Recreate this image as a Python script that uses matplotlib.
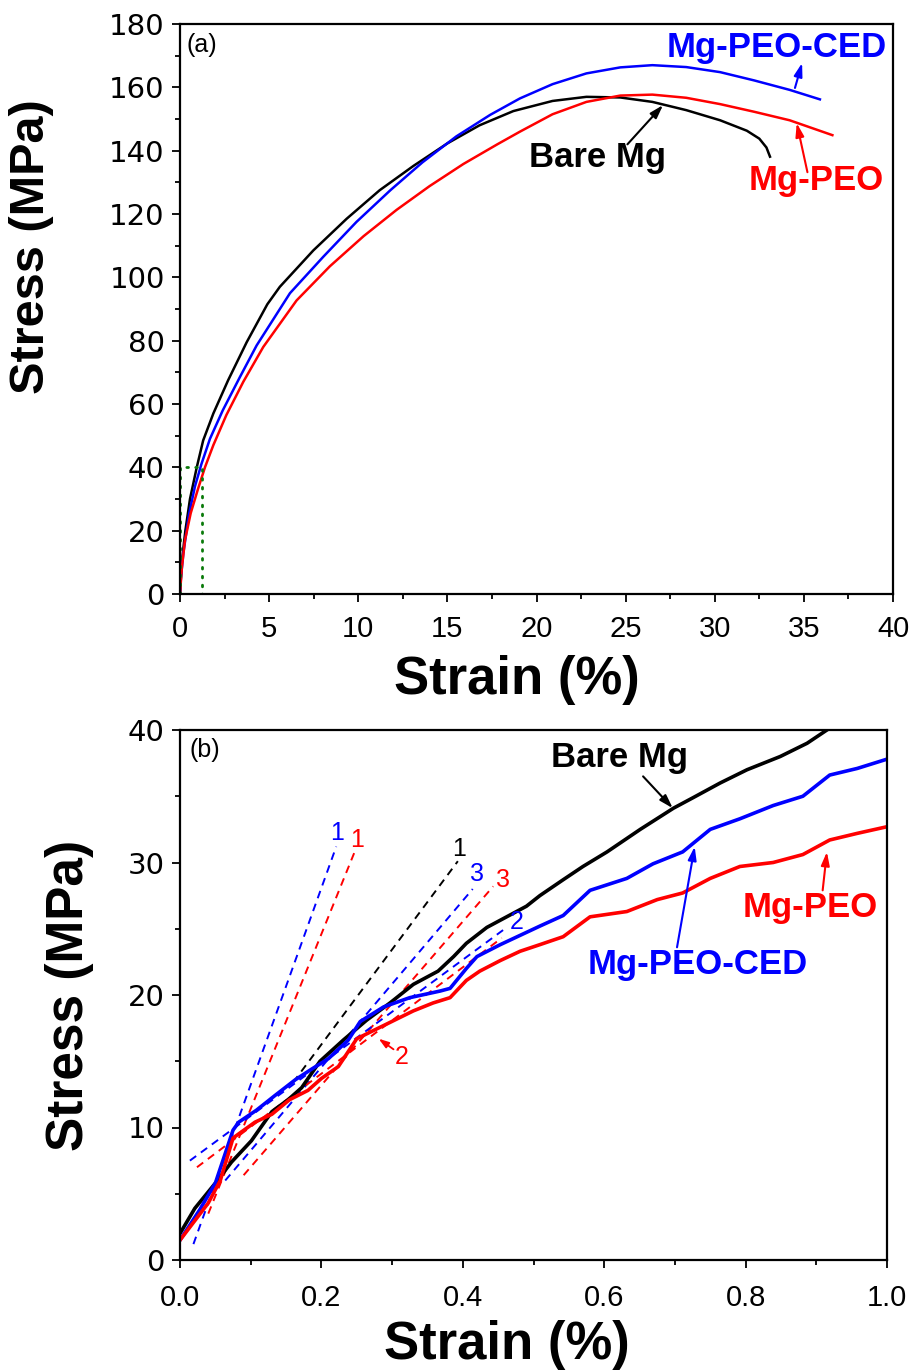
import matplotlib
matplotlib.use("Agg")
import matplotlib.pyplot as plt
from matplotlib.ticker import MultipleLocator, FormatStrFormatter

# ---------------- (a) full stress-strain curves ----------------
bare_strain = [0, 0.1, 0.3, 0.56, 0.94, 1.3, 1.87, 2.7, 3.74, 4.9, 5.6, 7.48, 9.35,
               11.2, 13.1, 15.0, 16.8, 18.7, 20.9, 22.8, 24.7, 26.5, 28.4, 30.3,
               31.8, 32.5, 32.9, 33.1]
bare_stress = [0, 10, 20, 30, 40, 48.5, 57, 67.5, 79.5, 91.5, 97.0, 108.5, 118.5,
               127.5, 135.2, 142.3, 148.0, 152.5, 155.7, 157.0, 156.8, 155.4, 152.8,
               149.6, 146.3, 143.8, 141.0, 138.1]

ced_strain = [0, 0.05, 0.19, 0.5, 0.84, 1.2, 1.68, 2.4, 3.36, 4.3, 6.17, 8.04, 9.9,
              11.8, 13.6, 15.5, 17.4, 19.07, 20.9, 22.8, 24.7, 26.5, 28.4, 30.3,
              32.2, 34.2, 35.9]
ced_stress = [0, 5, 13, 25, 34, 41, 49, 58, 68.5, 78.5, 95.0, 106.5, 117.5, 127.5,
              136.3, 144.5, 151.3, 156.5, 161.0, 164.4, 166.3, 167.0, 166.4, 164.8,
              162.2, 159.2, 156.2]

peo_strain = [0, 0.1, 0.28, 0.6, 1.0, 1.4, 1.87, 2.6, 3.55, 4.67, 6.54, 8.41, 10.3,
              12.15, 14.0, 15.9, 17.8, 19.07, 20.9, 22.8, 24.7, 26.5, 28.4, 30.3,
              32.2, 34.2, 36.6]
peo_stress = [0, 8, 17, 25.5, 33, 40, 47, 56.5, 67, 78, 92.7, 103.5, 113.0, 121.3,
              128.8, 135.8, 142.0, 146.0, 151.5, 155.4, 157.4, 157.7, 156.7, 154.7,
              152.3, 149.6, 144.9]

# region enlarged in panel (b)
zoom_box_strain = [0, 1.25]
zoom_box_stress = [0, 40]

# ---------------- (b) initial part of the curves ----------------
bare_strain_b = [0, 0.021, 0.05, 0.073, 0.101, 0.13, 0.153, 0.172, 0.198, 0.231,
                 0.264, 0.297, 0.33, 0.365, 0.387, 0.405, 0.434, 0.462, 0.49, 0.509,
                 0.542, 0.57, 0.604, 0.651, 0.698, 0.726, 0.764, 0.802, 0.849, 0.887,
                 0.915]
bare_stress_b = [2.0, 3.9, 5.8, 7.4, 9.0, 11.2, 12.1, 13.0, 15.0, 16.6, 18.1, 19.4,
                 20.8, 21.8, 22.9, 23.9, 25.1, 25.9, 26.7, 27.5, 28.7, 29.7, 30.8,
                 32.5, 34.1, 34.9, 36.0, 37.0, 38.0, 39.0, 40.0]

ced_strain_b = [0, 0.028, 0.05, 0.075, 0.083, 0.108, 0.134, 0.163, 0.186, 0.21, 0.238,
                0.255, 0.288, 0.325, 0.368, 0.382, 0.405, 0.42, 0.453, 0.481, 0.509,
                0.542, 0.58, 0.632, 0.669, 0.711, 0.75, 0.792, 0.839, 0.881, 0.919,
                0.958, 1.0]
ced_stress_b = [1.5, 3.8, 5.8, 9.8, 10.4, 11.3, 12.4, 13.6, 14.4, 15.2, 16.6, 18.0,
                19.1, 19.8, 20.3, 20.5, 22.0, 22.9, 23.8, 24.5, 25.2, 26.0, 27.9, 28.8,
                29.9, 30.8, 32.5, 33.3, 34.3, 35.0, 36.6, 37.1, 37.8]

peo_strain_b = [0, 0.04, 0.057, 0.075, 0.08, 0.106, 0.13, 0.155, 0.181, 0.2, 0.224,
                0.25, 0.292, 0.33, 0.358, 0.382, 0.405, 0.424, 0.453, 0.481, 0.509,
                0.542, 0.58, 0.632, 0.675, 0.711, 0.75, 0.792, 0.839, 0.881, 0.919,
                0.958, 1.0]
peo_stress_b = [1.5, 4.3, 6.0, 9.2, 9.4, 10.4, 11.0, 12.1, 12.8, 13.7, 14.6, 16.7,
                17.8, 18.8, 19.4, 19.8, 21.1, 21.8, 22.6, 23.3, 23.8, 24.4, 25.9, 26.3,
                27.2, 27.7, 28.8, 29.7, 30.0, 30.6, 31.7, 32.2, 32.7]

# linear fits of the elastic stages: label, colour, strain ends, stress ends
fit_labels = ["1", "1", "1", "3", "3", "2", "2"]
fit_colors = ["blue", "red", "black", "blue", "red", "blue", "red"]
fit_strain = [[0.019, 0.221], [0.04, 0.247], [0.16, 0.393], [0.064, 0.414],
              [0.09, 0.443], [0.014, 0.457], [0.024, 0.455]]
fit_stress = [[1.2, 31.2], [3.5, 30.8], [13.4, 30.1], [6.0, 28.0],
              [6.4, 28.2], [7.5, 24.9], [7.0, 24.3]]

COL = {"black": "#000000", "blue": "#0000FF", "red": "#FF0000"}
SANS = ["Liberation Sans", "DejaVu Sans"]

fig = plt.figure(figsize=(9.17, 13.72), dpi=100)
ax1 = fig.add_axes([180 / 917, 1 - 594 / 1372, 713 / 917, 570 / 1372])
ax2 = fig.add_axes([180 / 917, 1 - 1260 / 1372, 707 / 917, 530 / 1372])


def style_axes(ax, xpad):
    for sp in ax.spines.values():
        sp.set_linewidth(1.6)
    ax.tick_params(which="both", direction="out", top=False, right=False, width=1.3)
    ax.tick_params(which="major", length=6)
    ax.tick_params(which="minor", length=3.5)
    ax.tick_params(axis="x", pad=xpad)
    ax.tick_params(axis="y", pad=5)
    for lab in ax.get_xticklabels():
        lab.set_family(SANS)
        lab.set_fontsize(21)
    for lab in ax.get_yticklabels():
        lab.set_family(["DejaVu Sans"])
        lab.set_fontsize(21)


arrow_kw = dict(arrowstyle="-|>,head_length=0.8,head_width=0.25", lw=1.5,
                shrinkA=0, shrinkB=0)

# ---- panel (a)
ax1.plot(bare_strain, bare_stress, color=COL["black"], lw=1.8)
ax1.plot(ced_strain, ced_stress, color=COL["blue"], lw=1.8)
ax1.plot(peo_strain, peo_stress, color=COL["red"], lw=1.8)
bx = [zoom_box_strain[0], zoom_box_strain[0], zoom_box_strain[1], zoom_box_strain[1], zoom_box_strain[0]]
by = [zoom_box_stress[0], zoom_box_stress[1], zoom_box_stress[1], zoom_box_stress[0], zoom_box_stress[0]]
ax1.plot(bx, by, color="#0a7a0a", lw=2.0, linestyle=(0, (0.6, 2.6)), dash_capstyle="round")

ax1.set_xlim(0, 40)
ax1.set_ylim(0, 180)
ax1.xaxis.set_major_locator(MultipleLocator(5))
ax1.xaxis.set_minor_locator(MultipleLocator(2.5))
ax1.yaxis.set_major_locator(MultipleLocator(20))
ax1.yaxis.set_minor_locator(MultipleLocator(10))
style_axes(ax1, 9)

ax1.set_xlabel("Strain (%)", family=SANS, fontsize=38, fontweight="bold")
ax1.set_ylabel("Stress (MPa)", family=SANS, fontsize=35, fontweight="bold")
ax1.xaxis.set_label_coords(0.473, -0.151)
ax1.xaxis.label.set_va("center")
ax1.yaxis.set_label_coords(-0.2076, 0.61)
ax1.yaxis.label.set_va("center")

ax1.text(0.34, 173.4, "(a)", family=SANS, fontsize=18, va="center", ha="left")
ax1.text(33.5, 172.7, "Mg-PEO-CED", color=COL["blue"], family=SANS, fontsize=25,
         fontweight="bold", ha="center", va="center")
ax1.text(23.4, 137.7, "Bare Mg", color=COL["black"], family=SANS, fontsize=25,
         fontweight="bold", ha="center", va="center")
ax1.text(35.7, 130.7, "Mg-PEO", color=COL["red"], family=SANS, fontsize=25,
         fontweight="bold", ha="center", va="center")
ax1.annotate("", xy=(34.9, 167.7), xytext=(34.5, 159.8),
             arrowprops=dict(color=COL["blue"], **arrow_kw))
ax1.annotate("", xy=(27.1, 154.4), xytext=(25.1, 142.0),
             arrowprops=dict(color=COL["black"], **arrow_kw))
ax1.annotate("", xy=(34.6, 148.7), xytext=(35.2, 133.2),
             arrowprops=dict(color=COL["red"], **arrow_kw))

# ---- panel (b)
for xs, ys, c in zip(fit_strain, fit_stress, fit_colors):
    ax2.plot(xs, ys, color=COL[c], lw=1.4, linestyle=(0, (4, 3)))
ax2.plot(bare_strain_b, bare_stress_b, color=COL["black"], lw=2.6)
ax2.plot(ced_strain_b, ced_stress_b, color=COL["blue"], lw=2.6)
ax2.plot(peo_strain_b, peo_stress_b, color=COL["red"], lw=2.6)

label_pos = [(0.222, 32.2), (0.25, 31.7), (0.395, 31.0), (0.42, 29.1),
             (0.457, 28.7), (0.476, 25.5), (0.314, 15.3)]
for (tx, ty), t, c in zip(label_pos, fit_labels, fit_colors):
    ax2.text(tx, ty, t, color=COL[c], family=SANS, fontsize=18, ha="center", va="center")
ax2.annotate("", xy=(0.281, 16.7), xytext=(0.302, 15.9),
             arrowprops=dict(color=COL["red"], arrowstyle="-|>,head_length=0.6,head_width=0.2",
                             lw=1.3, shrinkA=0, shrinkB=0))

ax2.set_xlim(0, 1.0)
ax2.set_ylim(0, 40)
ax2.xaxis.set_major_locator(MultipleLocator(0.2))
ax2.xaxis.set_minor_locator(MultipleLocator(0.1))
ax2.yaxis.set_major_locator(MultipleLocator(10))
ax2.yaxis.set_minor_locator(MultipleLocator(5))
ax2.xaxis.set_major_formatter(FormatStrFormatter("%.1f"))
style_axes(ax2, 11)

ax2.set_xlabel("Strain (%)", family=SANS, fontsize=38, fontweight="bold")
ax2.set_ylabel("Stress (MPa)", family=SANS, fontsize=37, fontweight="bold")
ax2.xaxis.set_label_coords(0.4625, -0.16)
ax2.xaxis.label.set_va("center")
ax2.yaxis.set_label_coords(-0.156, 0.5)
ax2.yaxis.label.set_va("center")

ax2.text(0.014, 38.5, "(b)", family=SANS, fontsize=18, va="center", ha="left")
ax2.text(0.622, 37.9, "Bare Mg", color=COL["black"], family=SANS, fontsize=25,
         fontweight="bold", ha="center", va="center")
ax2.text(0.732, 22.3, "Mg-PEO-CED", color=COL["blue"], family=SANS, fontsize=25,
         fontweight="bold", ha="center", va="center")
ax2.text(0.891, 26.6, "Mg-PEO", color=COL["red"], family=SANS, fontsize=25,
         fontweight="bold", ha="center", va="center")
ax2.annotate("", xy=(0.697, 34.1), xytext=(0.655, 36.5),
             arrowprops=dict(color=COL["black"], **arrow_kw))
ax2.annotate("", xy=(0.728, 31.2), xytext=(0.703, 23.6),
             arrowprops=dict(color=COL["blue"], **arrow_kw))
ax2.annotate("", xy=(0.915, 30.8), xytext=(0.909, 27.9),
             arrowprops=dict(color=COL["red"], **arrow_kw))

fig.savefig("out.png", dpi=100)
